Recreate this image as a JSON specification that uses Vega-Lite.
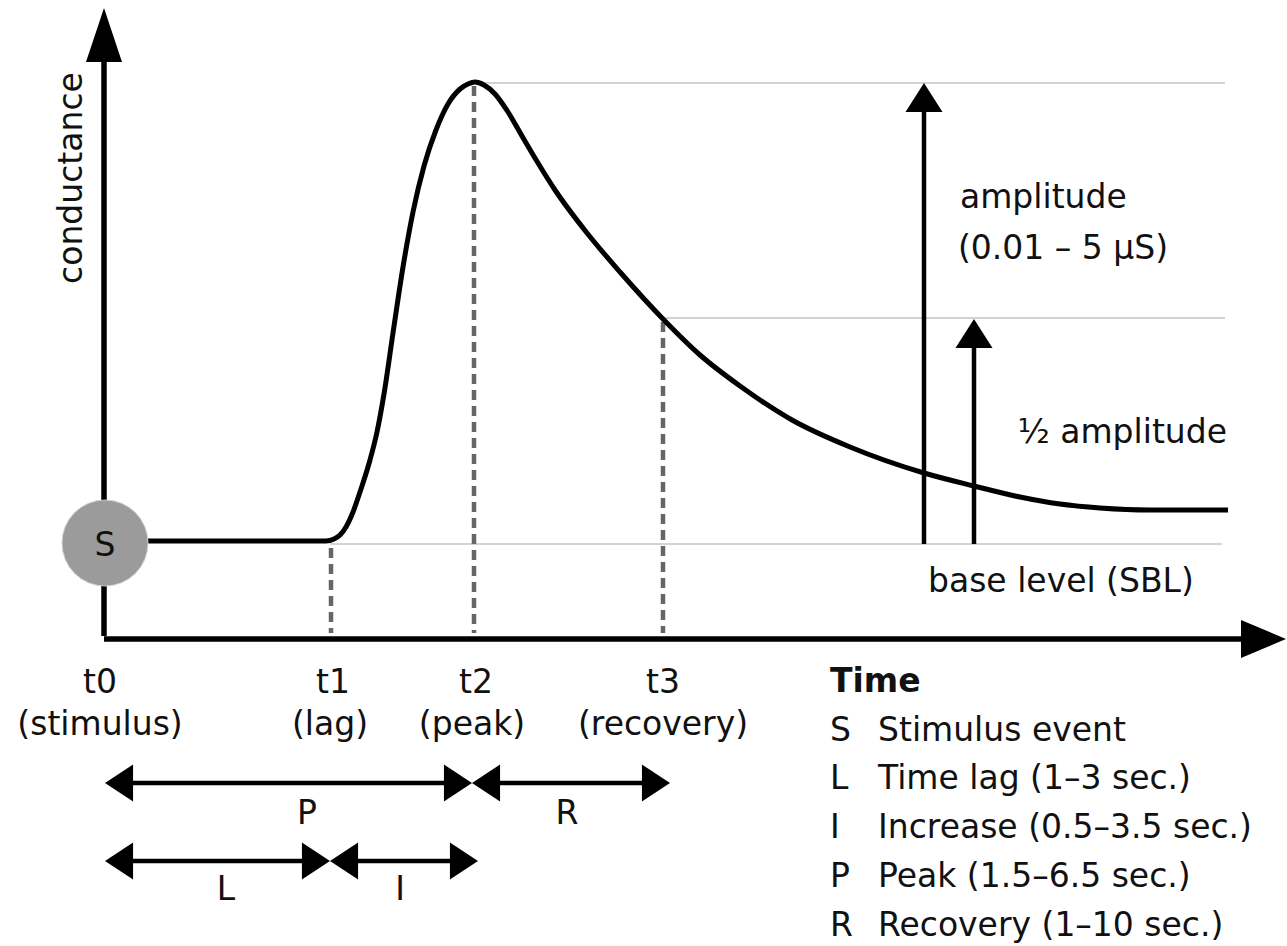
{
  "$schema": "https://vega.github.io/schema/vega-lite/v6.json",
  "width": 1287,
  "height": 946,
  "autosize": {"type": "fit", "contains": "padding"},
  "padding": 0,
  "background": "white",
  "config": {
    "view": {"stroke": null},
    "text": {"font": "DejaVu Sans", "fontSize": 33, "color": "#111111"}
  },
  "datasets": {
    "curve": [
      {"x": 148, "y": 541}, {"x": 326, "y": 541}, {"x": 334, "y": 539}, {"x": 340, "y": 535},
      {"x": 346, "y": 527}, {"x": 353, "y": 512}, {"x": 361, "y": 489}, {"x": 370, "y": 460},
      {"x": 377, "y": 432}, {"x": 384, "y": 394}, {"x": 393, "y": 333}, {"x": 403, "y": 267},
      {"x": 413, "y": 212}, {"x": 424, "y": 166}, {"x": 436, "y": 130}, {"x": 448, "y": 104},
      {"x": 460, "y": 89}, {"x": 468, "y": 84}, {"x": 475, "y": 82}, {"x": 484, "y": 85},
      {"x": 495, "y": 94}, {"x": 508, "y": 112},
      {"x": 522, "y": 136}, {"x": 538, "y": 163}, {"x": 555, "y": 190}, {"x": 587, "y": 233},
      {"x": 620, "y": 272}, {"x": 663, "y": 319}, {"x": 700, "y": 355}, {"x": 740, "y": 386},
      {"x": 792, "y": 420}, {"x": 850, "y": 447}, {"x": 924, "y": 473}, {"x": 974, "y": 486},
      {"x": 1020, "y": 497}, {"x": 1060, "y": 504}, {"x": 1100, "y": 508}, {"x": 1150, "y": 510},
      {"x": 1228, "y": 510}
    ],
    "guides": [
      {"name": "peak", "x": 474, "y": 83, "x2": 1225, "y2": 83},
      {"name": "half", "x": 663, "y": 318, "x2": 1225, "y2": 318},
      {"name": "base", "x": 330, "y": 544, "x2": 1222, "y2": 544}
    ],
    "dashes": [
      {"name": "t1", "x": 331, "y": 548, "x2": 331, "y2": 633},
      {"name": "t2", "x": 474, "y": 86, "x2": 474, "y2": 633},
      {"name": "t3", "x": 663, "y": 322, "x2": 663, "y2": 633}
    ],
    "axes": [
      {"name": "conductance", "x": 104, "y": 58, "x2": 104, "y2": 636},
      {"name": "time", "x": 104, "y": 639, "x2": 1247, "y2": 639}
    ],
    "shafts": [
      {"name": "amplitude", "x": 924, "y": 544, "x2": 924, "y2": 105},
      {"name": "half", "x": 974, "y": 544, "x2": 974, "y2": 340},
      {"name": "P", "x": 125, "y": 783, "x2": 455, "y2": 783},
      {"name": "R", "x": 490, "y": 783, "x2": 650, "y2": 783},
      {"name": "L", "x": 125, "y": 861, "x2": 312, "y2": 861},
      {"name": "I", "x": 348, "y": 861, "x2": 460, "y2": 861}
    ],
    "heads": [
      {"x": 104, "y": 8, "dir": "axis-up"},
      {"x": 1286, "y": 639, "dir": "axis-right"},
      {"x": 924, "y": 83, "dir": "up"},
      {"x": 974, "y": 319, "dir": "up"},
      {"x": 105, "y": 783, "dir": "left"},
      {"x": 472, "y": 783, "dir": "right"},
      {"x": 472, "y": 783, "dir": "left"},
      {"x": 670, "y": 783, "dir": "right"},
      {"x": 105, "y": 861, "dir": "left"},
      {"x": 330, "y": 861, "dir": "right"},
      {"x": 330, "y": 861, "dir": "left"},
      {"x": 478, "y": 861, "dir": "right"}
    ],
    "stimulus": [{"x": 105, "y": 543}],
    "centerText": [
      {"x": 105, "y": 556, "label": "S"},
      {"x": 100, "y": 693, "label": "t0"},
      {"x": 100, "y": 735, "label": "(stimulus)"},
      {"x": 333, "y": 693, "label": "t1"},
      {"x": 330, "y": 735, "label": "(lag)"},
      {"x": 476, "y": 693, "label": "t2"},
      {"x": 472, "y": 735, "label": "(peak)"},
      {"x": 663, "y": 693, "label": "t3"},
      {"x": 663, "y": 735, "label": "(recovery)"},
      {"x": 307, "y": 824, "label": "P"},
      {"x": 567, "y": 824, "label": "R"},
      {"x": 226, "y": 900, "label": "L"},
      {"x": 400, "y": 900, "label": "I"}
    ],
    "leftText": [
      {"x": 960, "y": 208, "label": "amplitude"},
      {"x": 958, "y": 259, "label": "(0.01 – 5 µS)"},
      {"x": 928, "y": 592, "label": "base level (SBL)"},
      {"x": 830, "y": 741, "label": "S"},
      {"x": 878, "y": 741, "label": "Stimulus event"},
      {"x": 830, "y": 789, "label": "L"},
      {"x": 878, "y": 789, "label": "Time lag (1–3 sec.)"},
      {"x": 830, "y": 838, "label": "I"},
      {"x": 878, "y": 838, "label": "Increase (0.5–3.5 sec.)"},
      {"x": 830, "y": 887, "label": "P"},
      {"x": 878, "y": 887, "label": "Peak (1.5–6.5 sec.)"},
      {"x": 830, "y": 936, "label": "R"},
      {"x": 878, "y": 936, "label": "Recovery (1–10 sec.)"}
    ],
    "rightText": [
      {"x": 1227, "y": 443, "label": "½ amplitude"}
    ],
    "boldText": [
      {"x": 830, "y": 692, "label": "Time"}
    ],
    "axisTitle": [
      {"x": 82, "y": 178, "label": "conductance"}
    ]
  },
  "encoding": {
    "x": {"field": "x", "type": "quantitative", "scale": {"domain": [0, 1287], "nice": false, "zero": false}, "axis": null},
    "y": {"field": "y", "type": "quantitative", "scale": {"domain": [0, 946], "nice": false, "zero": false, "reverse": true}, "axis": null}
  },
  "layer": [
    {
      "data": {"name": "guides"},
      "mark": {"type": "rule", "color": "#c4c4c4", "strokeWidth": 1.5},
      "encoding": {"x2": {"field": "x2"}, "y2": {"field": "y2"}}
    },
    {
      "data": {"name": "dashes"},
      "mark": {"type": "rule", "color": "#666666", "strokeWidth": 4.5, "strokeDash": [10, 6]},
      "encoding": {"x2": {"field": "x2"}, "y2": {"field": "y2"}}
    },
    {
      "data": {"name": "axes"},
      "mark": {"type": "rule", "color": "#000000", "strokeWidth": 5.5},
      "encoding": {"x2": {"field": "x2"}, "y2": {"field": "y2"}}
    },
    {
      "data": {"name": "shafts"},
      "mark": {"type": "rule", "color": "#000000", "strokeWidth": 4.5},
      "encoding": {"x2": {"field": "x2"}, "y2": {"field": "y2"}}
    },
    {
      "data": {"name": "curve"},
      "mark": {"type": "line", "color": "#000000", "strokeWidth": 5, "interpolate": "monotone"}
    },
    {
      "data": {"name": "heads"},
      "mark": {"type": "point", "filled": true, "opacity": 1, "color": "#000000", "strokeWidth": 0, "size": 2916},
      "encoding": {
        "shape": {
          "field": "dir",
          "type": "nominal",
          "legend": null,
          "scale": {
            "domain": ["axis-up", "axis-right", "up", "left", "right"],
            "range": [
              "M0,0L0.667,2L-0.667,2Z",
              "M0,0L-1.667,-0.7L-1.667,0.7Z",
              "M0,0L0.685,1.07L-0.685,1.07Z",
              "M0,0L1.04,-0.685L1.04,0.685Z",
              "M0,0L-1.04,-0.685L-1.04,0.685Z"
            ]
          }
        }
      }
    },
    {
      "data": {"name": "stimulus"},
      "mark": {"type": "point", "shape": "circle", "filled": true, "opacity": 1, "fill": "#9b9b9b", "stroke": "#d0d0d0", "strokeWidth": 1, "size": 7396}
    },
    {
      "data": {"name": "centerText"},
      "mark": {"type": "text", "align": "center", "baseline": "alphabetic"},
      "encoding": {"text": {"field": "label"}}
    },
    {
      "data": {"name": "leftText"},
      "mark": {"type": "text", "align": "left", "baseline": "alphabetic"},
      "encoding": {"text": {"field": "label"}}
    },
    {
      "data": {"name": "rightText"},
      "mark": {"type": "text", "align": "right", "baseline": "alphabetic"},
      "encoding": {"text": {"field": "label"}}
    },
    {
      "data": {"name": "boldText"},
      "mark": {"type": "text", "align": "left", "baseline": "alphabetic", "fontWeight": "bold"},
      "encoding": {"text": {"field": "label"}}
    },
    {
      "data": {"name": "axisTitle"},
      "mark": {"type": "text", "align": "center", "baseline": "alphabetic", "angle": 270},
      "encoding": {"text": {"field": "label"}}
    }
  ]
}
